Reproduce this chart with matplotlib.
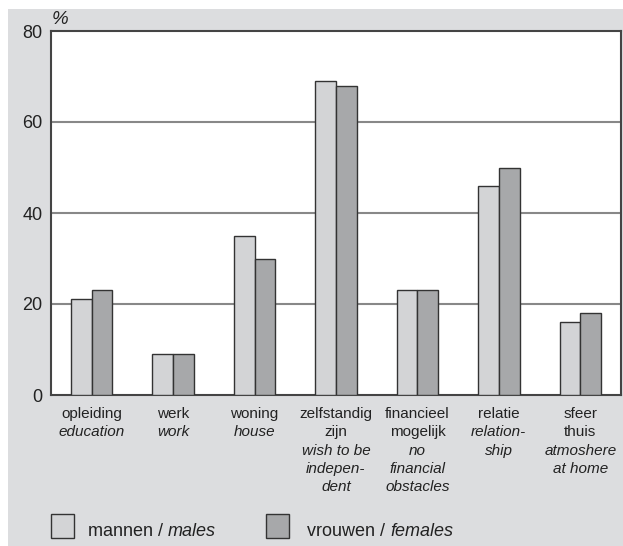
import matplotlib.pyplot as plt
import numpy as np
from matplotlib.patches import Rectangle

plt.rcParams['font.family'] = ['Liberation Sans', 'DejaVu Sans']

# data
dutch = [["opleiding"], ["werk"], ["woning"], ["zelfstandig", "zijn"],
         ["financieel", "mogelijk"], ["relatie"], ["sfeer", "thuis"]]
english = [["education"], ["work"], ["house"], ["wish to be", "indepen-", "dent"],
           ["no", "financial", "obstacles"], ["relation-", "ship"], ["atmoshere", "at home"]]
males = [21, 9, 35, 69, 23, 46, 16]
females = [23, 9, 30, 68, 23, 50, 18]
yticks = [0, 20, 40, 60, 80]

c_m = '#d3d4d6'
c_f = '#a7a8aa'
edge = '#333333'
bg = '#dcdddf'

fig = plt.figure(figsize=(6.23, 5.46), dpi=100)
fig.patch.set_facecolor('white')
# gray panel behind everything
fig.add_artist(Rectangle((8 / 623, 0), 1 - 8 / 623, 1 - 9 / 546,
                         transform=fig.transFigure, facecolor=bg, edgecolor='none', zorder=-10))

ax = fig.add_axes([51 / 623, 1 - 395 / 546, 570 / 623, 364 / 546])
ax.set_facecolor('white')

x = np.arange(len(males))
w = 0.254
ax.bar(x - w / 2, males, w, color=c_m, edgecolor=edge, linewidth=1, zorder=3)
ax.bar(x + w / 2, females, w, color=c_f, edgecolor=edge, linewidth=1, zorder=3)

ax.set_xlim(-0.5, len(males) - 0.5)
ax.set_ylim(0, 80)
ax.set_yticks(yticks)
ax.set_yticklabels([str(v) for v in yticks], fontsize=13, color='#222222')
ax.tick_params(axis='y', length=0, pad=6)
ax.set_xticks([])
for y in yticks[1:-1]:
    ax.axhline(y, color='#888888', linewidth=1.5, zorder=1)
for s in ax.spines.values():
    s.set_color('#444444')
    s.set_linewidth(1.5)

ax.text(0.002, 1.008, '%', transform=ax.transAxes, fontsize=13.5, style='italic',
        ha='left', va='bottom', color='#222222')

# category labels: Dutch regular, English italic
step = 13.2
for i in range(len(males)):
    lines = [(t, 'normal') for t in dutch[i]] + [(t, 'italic') for t in english[i]]
    for j, (t, st) in enumerate(lines):
        ax.annotate(t, xy=(x[i], 0), xycoords=('data', 'axes fraction'),
                    xytext=(0, -16.5 - j * step), textcoords='offset points',
                    ha='center', va='baseline', fontsize=11, style=st, color='#222222')

# legend
for x0, col in [(51, c_m), (266, c_f)]:
    fig.add_artist(Rectangle((x0 / 623, 1 - 538 / 546), 23 / 623, 24 / 546,
                             transform=fig.transFigure, facecolor=col,
                             edgecolor=edge, linewidth=1))
t1 = fig.text(88 / 623, 1 - 536 / 546, 'mannen / ', fontsize=13, va='baseline', color='#222222')
fig.canvas.draw()
bb = t1.get_window_extent()
fig.text(bb.x1 / 623, 1 - 536 / 546, 'males', fontsize=13, style='italic', va='baseline', color='#222222')
t2 = fig.text(307 / 623, 1 - 536 / 546, 'vrouwen / ', fontsize=13, va='baseline', color='#222222')
fig.canvas.draw()
bb = t2.get_window_extent()
fig.text(bb.x1 / 623, 1 - 536 / 546, 'females', fontsize=13, style='italic', va='baseline', color='#222222')

fig.savefig('out.png', dpi=100, facecolor=fig.get_facecolor())
